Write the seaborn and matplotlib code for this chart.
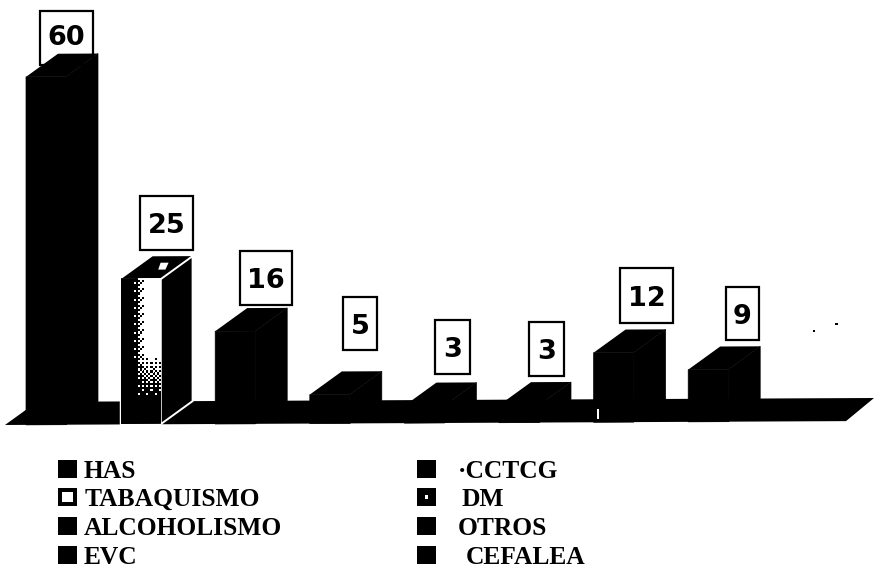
import numpy as np
import pandas as pd
import matplotlib
matplotlib.use("Agg")
import matplotlib.pyplot as plt
from matplotlib.patches import Polygon, Rectangle
from matplotlib.transforms import Affine2D
import seaborn as sns

# Cases per diagnosis
categories = ["HAS", "TABAQUISMO", "ALCOHOLISMO", "EVC", "CCTCG", "DM", "OTROS", "CEFALEA"]
values = [60, 25, 16, 5, 3, 3, 12, 9]

# Layout in pixels, measured from the top-left corner of the figure
W, H = 874, 576
BASE_Y = 425
UNIT_PX = 5.8
FIRST_CENTER_X = 46
STEP_X = 94.6
BAR_PX = 40
DEPTH_PX = (32, 23)
label_boxes = [(40, 11, 53, 54), (140, 196, 53, 54), (240, 251, 52, 54), (343, 297, 34, 53),
               (435, 320, 35, 54), (529, 322, 35, 54), (620, 268, 53, 55), (726, 287, 33, 53)]
legend_rows = [469, 497, 526, 555]
legend_left = [(58, 84), (58, 85), (58, 84), (58, 84)]
legend_right = [(417, 458), (417, 462), (417, 458), (417, 466)]

sns.set_theme(style="white")
fig = plt.figure(figsize=(W / 100, H / 100), dpi=100, facecolor="white")
ax = fig.add_axes([0, 0, 1, 1])

df = pd.DataFrame({"diagnosis": categories, "cases": values})
sns.barplot(data=df, x="diagnosis", y="cases", order=categories, color="black",
            saturation=1, width=BAR_PX / STEP_X, edgecolor="black", linewidth=0.5, ax=ax, zorder=3)

ax.set_xlim(-FIRST_CENTER_X / STEP_X, (W - FIRST_CENTER_X) / STEP_X)
ax.set_ylim((BASE_Y - H) / UNIT_PX, BASE_Y / UNIT_PX)
ax.axis("off")

# Small upward drift towards the right, shared by floor and bars
drift = Affine2D().skew(0, np.arctan(4 / W))
data_tf = ax.transData + drift
pixel_tf = Affine2D().scale(1, -1).translate(0, H)

dx = DEPTH_PX[0] / STEP_X
dy = DEPTH_PX[1] / UNIT_PX


def px_to_x(px):
    return (px - FIRST_CENTER_X) / STEP_X


# Floor slab under the bars
floor = Polygon([(px_to_x(5), 0), (px_to_x(5) + dx, dy), (px_to_x(874), dy), (px_to_x(846), 0)],
                closed=True, fc="black", ec="none", transform=data_tf, zorder=1)
ax.add_patch(floor)

bars = list(ax.patches)[:len(values)]
for i, bar in enumerate(bars):
    x0, w, h = bar.get_x(), bar.get_width(), bar.get_height()
    bar.set_transform(data_tf)
    top = Polygon([(x0, h), (x0 + dx, h + dy), (x0 + w + dx, h + dy), (x0 + w, h)],
                  closed=True, fc="black", ec="none", transform=data_tf, zorder=2)
    side = Polygon([(x0 + w, 0), (x0 + w + dx, dy), (x0 + w + dx, h + dy), (x0 + w, h)],
                   closed=True, fc="black", ec="black", lw=0.5, transform=data_tf, zorder=2)
    ax.add_patch(top)
    ax.add_patch(side)

    # The TABAQUISMO bar has a pale, dithered front face
    if categories[i] == "TABAQUISMO":
        side.set_edgecolor("white")
        side.set_linewidth(1.4)
        bar.set_edgecolor("white")
        bar.set_linewidth(1.2)
        rows, cols = 71, 19
        v, u = np.mgrid[0:1:rows * 1j, 0:1:cols * 1j]
        shade = np.clip((u - 0.30) / 0.30, 0, 1) * np.clip((0.82 - v) / 0.30, 0, 1)
        bayer = np.array([[0, 8, 2, 10], [12, 4, 14, 6], [3, 11, 1, 9], [15, 7, 13, 5]]) / 16 + 1 / 32
        thresh = np.tile(bayer, (rows // 4 + 1, cols // 4 + 1))[:rows, :cols]
        face = (shade > thresh).astype(float)
        img = ax.imshow(face, cmap="gray", vmin=0, vmax=1, aspect="auto", interpolation="nearest",
                        extent=(x0, x0 + w, 0, h), origin="upper", zorder=3.5)
        img.set_transform(data_tf)
        ax.set_xlim(-FIRST_CENTER_X / STEP_X, (W - FIRST_CENTER_X) / STEP_X)
        ax.set_ylim((BASE_Y - H) / UNIT_PX, BASE_Y / UNIT_PX)
        gx = x0 + w * 0.6 + dx * 0.5
        glint = Polygon([(gx, h + dy * 0.72), (gx + w * 0.2, h + dy * 0.72),
                         (gx + w * 0.12, h + dy * 0.42), (gx - w * 0.06, h + dy * 0.42)],
                        closed=True, fc="white", ec="none", transform=data_tf, zorder=2.5)
        ax.add_patch(glint)

# Value boxes above the bars; the first one sits behind its bar
for val, (bx, by, bw, bh) in zip(values, label_boxes):
    ax.add_patch(Rectangle((bx, by), bw, bh, fc="white", ec="black", lw=1.6,
                           transform=pixel_tf, zorder=1.5))
    text_y = by + (bh if val != 60 else 48) / 2
    ax.text(bx + bw / 2, text_y, str(val), transform=pixel_tf, ha="center", va="center_baseline",
            fontsize=19.5, fontweight="bold", family="DejaVu Sans", color="black", zorder=6)


def legend_entry(label, y, sq_x, text_x, spot=None):
    ax.add_patch(Rectangle((sq_x, y - 9), 19, 18, fc="black", ec="none", transform=pixel_tf, zorder=5))
    if spot is not None:
        sx, sy, sw, sh = spot
        ax.add_patch(Rectangle((sq_x + sx, y - 9 + sy), sw, sh, fc="white", ec="none",
                               transform=pixel_tf, zorder=6))
    ax.text(text_x, y, label, transform=pixel_tf, ha="left", va="center_baseline", fontsize=18.4,
            fontweight="bold", family="Liberation Serif", color="black", zorder=6)


spots = {"TABAQUISMO": (4, 4, 11, 10), "DM": (8, 7, 3, 4)}
for label, y, (sq, tx) in zip(categories[:4], legend_rows, legend_left):
    legend_entry(label, y, sq, tx, spots.get(label))
right_labels = ["\u00b7CCTCG", "DM", "OTROS", "CEFALEA"]
for src, label, y, (sq, tx) in zip(categories[4:], right_labels, legend_rows, legend_right):
    legend_entry(label, y, sq, tx, spots.get(src))

# Loose flecks of toner on the page
ax.add_patch(Rectangle((813, 330), 2, 2, fc="black", ec="none", transform=pixel_tf, zorder=5))
ax.add_patch(Rectangle((835, 323), 3, 1.5, fc="black", ec="none", transform=pixel_tf, zorder=5))
ax.add_patch(Rectangle((597, 409), 1.5, 10, fc="white", ec="none", transform=pixel_tf, zorder=5))

fig.savefig("out.png", dpi=100, facecolor="white")
